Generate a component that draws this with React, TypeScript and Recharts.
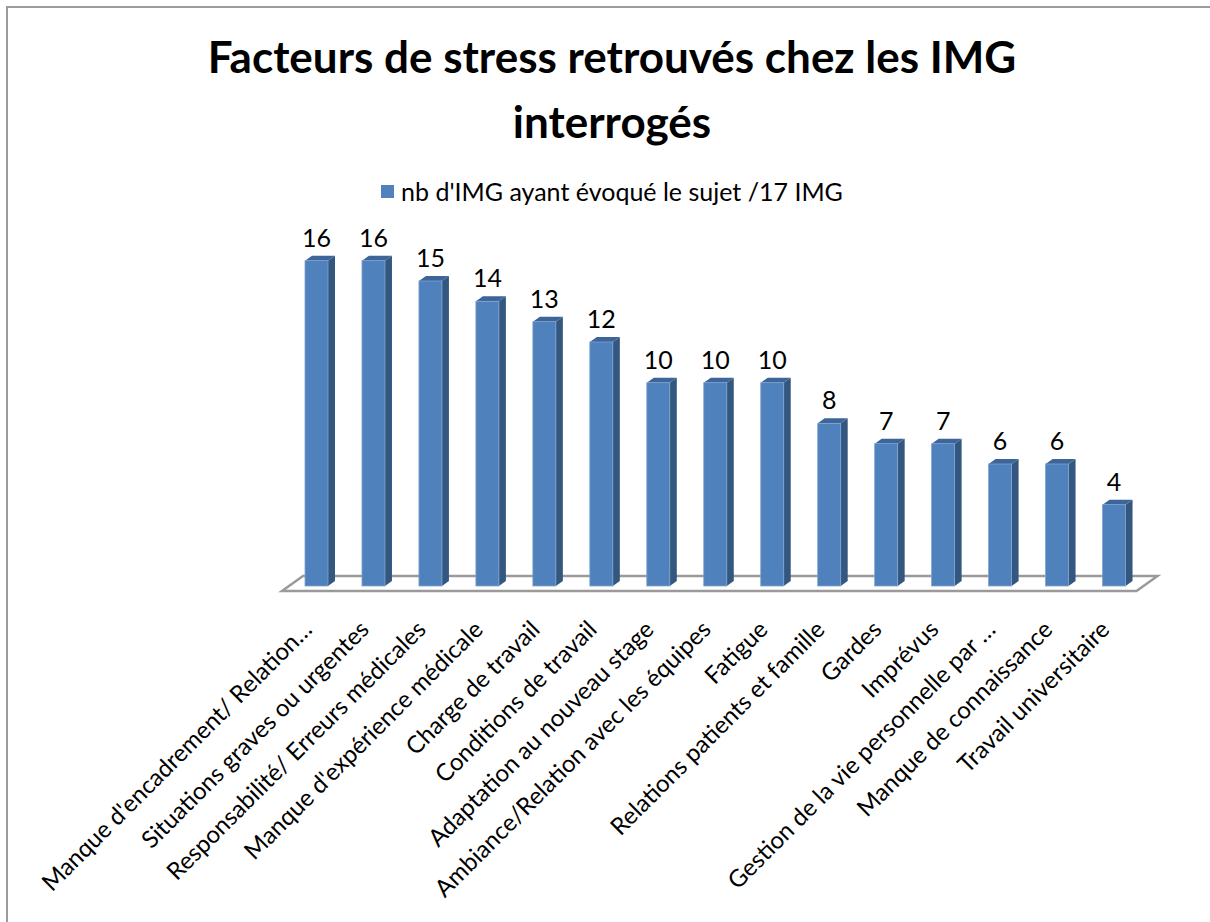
import React from 'react';
import { BarChart, Bar, XAxis, YAxis, LabelList, Legend, ReferenceLine } from 'recharts';

const categories: string[] = [
  "Manque d'encadrement/ Relation…",
  'Situations graves ou urgentes',
  'Responsabilité/ Erreurs médicales',
  "Manque d'expérience médicale",
  'Charge de travail',
  'Conditions de travail',
  'Adaptation au nouveau stage',
  'Ambiance/Relation avec les équipes',
  'Fatigue',
  'Relations patients et famille',
  'Gardes',
  'Imprévus',
  'Gestion de la vie personnelle par …',
  'Manque de connaissance',
  'Travail universitaire',
];
const values: number[] = [16, 16, 15, 14, 13, 12, 10, 10, 10, 8, 7, 7, 6, 6, 4];
const seriesName = "nb d'IMG ayant évoqué le sujet /17 IMG";
const titleLines: string[] = ['Facteurs de stress retrouvés chez les IMG', 'interrogés'];
const yDomain: [number, number] = [0, 18];

const data = categories.map((name, i) => ({ name, value: values[i] }));

const FONT = 'Lato, "Open Sans", sans-serif';

const Bar3D = (props: any) => {
  const { x, y, width, height } = props;
  if (height == null || width == null) return null;
  const dx = 7;
  const dy = 5;
  const bottom = y + height;
  return (
    <g>
      <path
        d={`M${x + width},${y} L${x + width + dx},${y - dy} L${x + width + dx},${bottom - dy} L${x + width},${bottom} Z`}
        fill="#34577F"
      />
      <path
        d={`M${x},${y} L${x + dx},${y - dy} L${x + width + dx},${y - dy} L${x + width},${y} Z`}
        fill="#3D6599"
      />
      <rect x={x} y={y} width={width} height={height} fill="#4F81BD" stroke="#7FA2CE" strokeWidth={0.8} />
    </g>
  );
};

const Floor = (props: any) => {
  const { x1, y1, x2 } = props;
  if (x1 == null) return null;
  const fy = y1 + 5;
  const by = y1 - 10;
  const d = `M${x1 - 6},${fy} L${x1 + 15},${by} L${x2 + 15},${by} L${x2 - 6},${fy} Z`;
  return <path d={d} fill="#FFFFFF" stroke="#9A9A9A" strokeWidth={2.5} strokeLinejoin="miter" />;
};

const ValueLabel = (props: any) => {
  const { x, y, width, value } = props;
  return (
    <text x={x + width / 2} y={y - 14} textAnchor="middle" fontFamily={FONT} fontSize={25} fill="#000">
      {value}
    </text>
  );
};

const CategoryTick = (props: any) => {
  const { x, payload } = props;
  return (
    <g transform={`translate(${x - 3},${631})`}>
      <text x={0} y={0} textAnchor="end" transform="rotate(-45)" fontFamily={FONT} fontSize={24} fill="#000">
        {payload.value}
      </text>
    </g>
  );
};

const LegendContent = () => (
  <div style={{ display: 'flex', justifyContent: 'center', alignItems: 'center', fontFamily: FONT, fontSize: 25, color: '#000', lineHeight: '28px' }}>
    <span style={{ display: 'inline-block', width: 13, height: 13, background: '#4F81BD', marginRight: 7 }} />
    <span>{seriesName}</span>
  </div>
);

export default function App() {
  return (
    <div style={{ position: 'absolute', left: 0, top: 0, width: 1210, height: 922, background: '#fff', overflow: 'hidden' }}>
      <div
        style={{
          position: 'absolute',
          left: 6,
          top: 6,
          width: 1204,
          height: 916,
          borderLeft: '2px solid #9C9C9C',
          borderTop: '2px solid #9C9C9C',
          boxSizing: 'border-box',
        }}
      />
      <div
        style={{
          position: 'absolute',
          left: 0,
          top: 24,
          width: 1224,
          textAlign: 'center',
          fontFamily: FONT,
          fontWeight: 700,
          fontSize: 44,
          lineHeight: '65px',
          color: '#000',
        }}
      >
        {titleLines.map((t, i) => (
          <div key={i}>{t}</div>
        ))}
      </div>
      <div style={{ position: 'absolute', left: 0, top: 0, width: 1210, height: 922, overflow: 'hidden' }}>
        <BarChart
          width={1210}
          height={922}
          data={data}
          margin={{ top: 220, left: 288, right: 67.5, bottom: 36 }}
        >
          <YAxis hide domain={yDomain} />
          <XAxis
            dataKey="name"
            height={300}
            axisLine={false}
            tickLine={false}
            interval={0}
            tick={<CategoryTick />}
          />
          <ReferenceLine y={0} shape={<Floor />} zIndex={-10} ifOverflow="visible" />
          <Legend
            verticalAlign="middle"
            align="center"
            layout="horizontal"
            wrapperStyle={{ top: 177, left: 0, width: 1210, paddingLeft: 14, boxSizing: 'border-box' }}
            content={<LegendContent />}
          />
          <Bar dataKey="value" name={seriesName} barSize={23} shape={<Bar3D />} isAnimationActive={false}>
            <LabelList dataKey="value" content={<ValueLabel />} />
          </Bar>
        </BarChart>
      </div>
    </div>
  );
}
